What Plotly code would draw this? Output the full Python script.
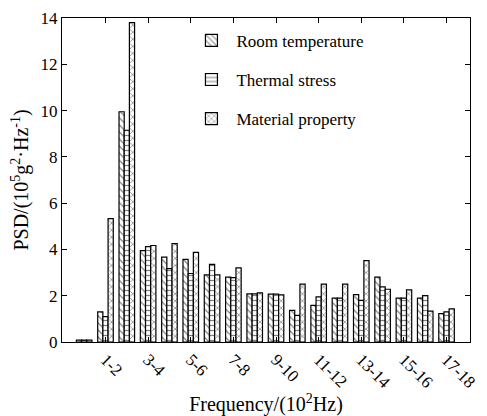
import plotly.graph_objects as go

categories = [f"{i}-{i+1}" for i in range(18)]
room_temperature = [0.08, 1.3, 9.95, 3.95, 3.67, 3.57, 2.9, 2.8, 2.08, 2.07, 1.37, 1.58, 1.9, 2.05, 2.8, 1.9, 1.9, 1.23]
thermal_stress   = [0.08, 1.1, 9.15, 4.12, 3.17, 2.96, 3.35, 2.78, 2.08, 2.07, 1.15, 1.95, 1.9, 1.8, 2.38, 1.9, 2.0, 1.3]
material_prop    = [0.08, 5.33, 13.8, 4.17, 4.25, 3.87, 2.9, 3.2, 2.12, 2.04, 2.5, 2.5, 2.5, 3.52, 2.28, 2.25, 1.33, 1.43]
tick_idx = [i for i in range(len(categories)) if i % 2 == 1]
tick_labels = [categories[i] for i in tick_idx]

xidx = list(range(len(categories)))
font_family = "Liberation Serif, Times New Roman, DejaVu Serif, serif"

def bar(name, vals, shape, grp):
    return go.Bar(
        x=xidx, y=vals, name=name, legendgroup=grp,
        marker=dict(color="white", line=dict(color="black", width=1.2),
                    pattern=dict(shape=shape, fgcolor="black", bgcolor="white",
                                 size=5, solidity=0.25)),
    )

fig = go.Figure([
    bar("Room temperature", room_temperature, "\\", "a"),
    bar("Thermal stress", thermal_stress, "-", "b"),
    bar("Material property", material_prop, "x", "c"),
])

fig.update_layout(
    width=487, height=416,
    margin=dict(l=62, r=8, t=18, b=67),
    paper_bgcolor="white", plot_bgcolor="white",
    barmode="group", bargap=0.27, bargroupgap=0,
    font=dict(family=font_family, size=17, color="black"),
    legend=dict(x=0.305, y=0.985, xanchor="left", yanchor="top",
                bgcolor="rgba(0,0,0,0)", font=dict(size=17),
                tracegroupgap=14, itemwidth=40),
    xaxis=dict(range=[-1.04, 18.1], tickmode="array", tickvals=tick_idx,
               ticktext=tick_labels, tickangle=45,
               showline=True, linecolor="black", linewidth=1, mirror="ticks",
               ticks="inside", ticklen=5, tickcolor="black",
               showgrid=False, zeroline=False,
               title=dict(text="Frequency/(10<sup>2</sup>Hz)", standoff=2)),
    yaxis=dict(range=[0, 14], dtick=2, ticks="inside", ticklen=5, tickcolor="black",
               showline=True, linecolor="black", linewidth=1, mirror="ticks",
               showgrid=False, zeroline=False,
               title=dict(text="PSD/(10<sup>5</sup>g<sup>2</sup>·Hz<sup>-1</sup>)", standoff=6)),
)

fig.write_html("out.html")
